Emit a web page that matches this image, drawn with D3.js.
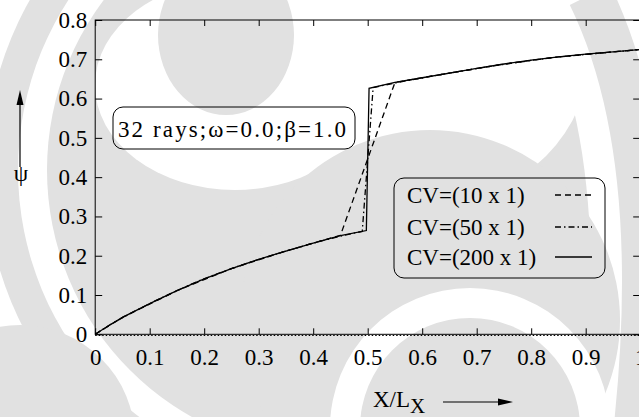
<!DOCTYPE html>
<html lang="en">
<head>
<meta charset="UTF-8">
<title>psi profile</title>
<script src="https://cdn.jsdelivr.net/npm/d3@7"></script>
<style>
  body{margin:0;background:#fff;}
  .series{fill:none;stroke:#000;stroke-width:1.3;}
</style>
</head>
<body>
<svg id="container" width="639" height="417"></svg>
<script>
// tick values and labels
let xTicks=[0,0.1,0.2,0.3,0.4,0.5,0.6,0.7,0.8,0.9,1]
let xTickLabels=["0","0.1","0.2","0.3","0.4","0.5","0.6","0.7","0.8","0.9","1"]
let yTicks=[0,0.1,0.2,0.3,0.4,0.5,0.6,0.7,0.8]
let yTickLabels=["0","0.1","0.2","0.3","0.4","0.5","0.6","0.7","0.8"]

// psi for each grid
let cv10X=[0,0.05,0.15,0.25,0.35,0.45,0.55,0.65,0.75,0.85,0.95,1]
let cv10Psi=[0,0.043,0.111,0.167,0.212,0.252,0.641,0.665,0.688,0.706,0.719,0.725]
let cv50X=[0,0.03,0.07,0.11,0.15,0.19,0.23,0.27,0.31,0.35,0.39,0.43,0.47,0.49,0.51,0.53,0.57,0.61,0.65,0.69,0.73,0.77,0.81,0.85,0.89,0.93,0.97,1]
let cv50Psi=[0,0.027,0.057,0.085,0.111,0.136,0.157,0.177,0.195,0.212,0.228,0.243,0.256,0.262,0.628,0.634,0.645,0.655,0.665,0.674,0.683,0.691,0.699,0.706,0.711,0.716,0.721,0.725]
let cv200X=[0,0.02,0.05,0.1,0.15,0.2,0.25,0.3,0.35,0.4,0.45,0.4975,0.5025,0.55,0.6,0.65,0.7,0.75,0.8,0.85,0.9,0.95,1]
let cv200Psi=[0,0.018,0.043,0.078,0.111,0.141,0.167,0.191,0.212,0.232,0.251,0.264,0.626,0.641,0.653,0.665,0.677,0.688,0.698,0.706,0.713,0.719,0.725]

let legendLabels=["CV=(10 x 1)","CV=(50 x 1)","CV=(200 x 1)"]
let legendDash=["6,4","6,3,1.5,3",null]
let noteText="32 rays;\u03c9=0.0;\u03b2=1.0"

let serifFont="'Liberation Serif', 'DejaVu Serif', serif"
let svg=d3.select("#container")
let plotLeft=95.2, plotRight=640.2, plotTop=20, plotBottom=334.3
let xScale=d3.scaleLinear().domain([0,1]).range([plotLeft,plotRight])
let yScale=d3.scaleLinear().domain([0,0.8]).range([plotBottom,plotTop])

// faint watermark behind the plot
let wm=svg.append("g")
let grey="#e1e1e1"
wm.append("rect").attr("width",639).attr("height",417).attr("fill","#fff")
wm.append("circle").attr("cx",330).attr("cy",170).attr("r",345).attr("fill",grey)
wm.append("circle").attr("cx",330).attr("cy",170).attr("r",312).attr("fill","#fff")
wm.append("circle").attr("cx",330).attr("cy",170).attr("r",283).attr("fill",grey)
wm.append("circle").attr("cx",20).attr("cy",440).attr("r",115).attr("fill",grey)
wm.append("circle").attr("cx",440).attr("cy",50).attr("r",150).attr("fill","#fff")
wm.append("ellipse").attr("cx",235).attr("cy",85).attr("rx",140).attr("ry",105).attr("fill","#fff")
wm.append("ellipse").attr("cx",226).attr("cy",35).attr("rx",68).attr("ry",80).attr("fill",grey)
wm.append("path").attr("d","M584,-5 Q660,150 630,430").attr("fill","none").attr("stroke","#fff").attr("stroke-width",95)
wm.append("path").attr("d","M590,-5 Q666,150 636,430").attr("fill","none").attr("stroke",grey).attr("stroke-width",45)
wm.append("circle").attr("cx",430).attr("cy",320).attr("r",190).attr("fill",grey)
wm.append("circle").attr("cx",470).attr("cy",428).attr("r",140).attr("fill","#fff")
wm.append("circle").attr("cx",470).attr("cy",428).attr("r",110).attr("fill",grey)

// axes, ticks pointing inward on all four sides
svg.append("g").attr("class","axis").attr("transform","translate(0,"+plotBottom+")")
    .call(d3.axisBottom(xScale).tickValues(xTicks).tickFormat((d,i)=>xTickLabels[i]).tickSize(-6).tickPadding(14))
svg.append("g").attr("class","axis").attr("transform","translate("+plotLeft+",0)")
    .call(d3.axisLeft(yScale).tickValues(yTicks).tickFormat((d,i)=>yTickLabels[i]).tickSize(-7).tickPadding(8))
svg.append("g").attr("class","axis").attr("transform","translate(0,"+plotTop+")")
    .call(d3.axisTop(xScale).tickValues(xTicks).tickFormat("").tickSize(-6))
svg.append("g").attr("class","axis").attr("transform","translate("+plotRight+",0)")
    .call(d3.axisRight(yScale).tickValues(yTicks).tickFormat("").tickSize(-7))
svg.selectAll(".axis").attr("font-family",serifFont).attr("font-size",23)
svg.selectAll(".axis .domain").remove()
svg.selectAll(".axis line").attr("stroke","#000")
svg.selectAll(".axis text").attr("fill","#000")

svg.append("rect").attr("x",plotLeft).attr("y",plotTop).attr("width",plotRight-plotLeft).attr("height",plotBottom-plotTop)
    .attr("fill","none").attr("stroke","#000").attr("stroke-width",1)
svg.append("line").attr("x1",plotLeft).attr("x2",plotRight).attr("y1",plotBottom+1.2).attr("y2",plotBottom+1.2)
    .attr("stroke","#000").attr("stroke-width",1).attr("stroke-dasharray","1.5,2")

// curves
let valueline=d3.line().x(d=>xScale(d[0])).y(d=>yScale(d[1]))
let series=[d3.zip(cv10X,cv10Psi),d3.zip(cv50X,cv50Psi),d3.zip(cv200X,cv200Psi)]
series.forEach((s,i)=>{
    let p=svg.append("path").datum(s).attr("class","series").attr("d",valueline)
    if(legendDash[i]) p.attr("stroke-dasharray",legendDash[i])
})

let labels=svg.append("g").attr("font-family",serifFont).attr("font-size",23).attr("fill","#000")

// note box
labels.append("rect").attr("x",113).attr("y",107).attr("width",242).attr("height",42).attr("rx",10)
    .attr("fill","none").attr("stroke","#000")
labels.append("text").attr("x",118).attr("y",137)
    .attr("textLength",228).attr("lengthAdjust","spacing").text(noteText)

// legend
labels.append("rect").attr("x",394).attr("y",178).attr("width",211).attr("height",100).attr("rx",10)
    .attr("fill","none").attr("stroke","#000")
let legBase=[203,235,265]
legendLabels.forEach((t,i)=>{
    labels.append("text").attr("x",407).attr("y",legBase[i]).text(t)
    let l=labels.append("line").attr("x1",555).attr("x2",592).attr("y1",legBase[i]-8).attr("y2",legBase[i]-8)
        .attr("stroke","#000").attr("stroke-width",1.3)
    if(legendDash[i]) l.attr("stroke-dasharray",legendDash[i])
})

// axis titles with arrows
labels.append("text").attr("x",21).attr("y",181).attr("text-anchor","middle").text("\u03c8")
labels.append("line").attr("x1",20).attr("x2",20).attr("y1",167).attr("y2",103).attr("stroke","#000").attr("stroke-width",1.2)
labels.append("path").attr("d","M20,90 L16.5,105 L23.5,105 Z").attr("fill","#000")

let xl=labels.append("text").attr("x",373).attr("y",407)
xl.append("tspan").text("X/L")
xl.append("tspan").attr("dy",6).attr("font-size",21).text("X")
labels.append("line").attr("x1",443).attr("x2",500).attr("y1",402).attr("y2",402).attr("stroke","#000").attr("stroke-width",1.2)
labels.append("path").attr("d","M513,402 L498,398.5 L498,405.5 Z").attr("fill","#000")
</script>
</body>
</html>
